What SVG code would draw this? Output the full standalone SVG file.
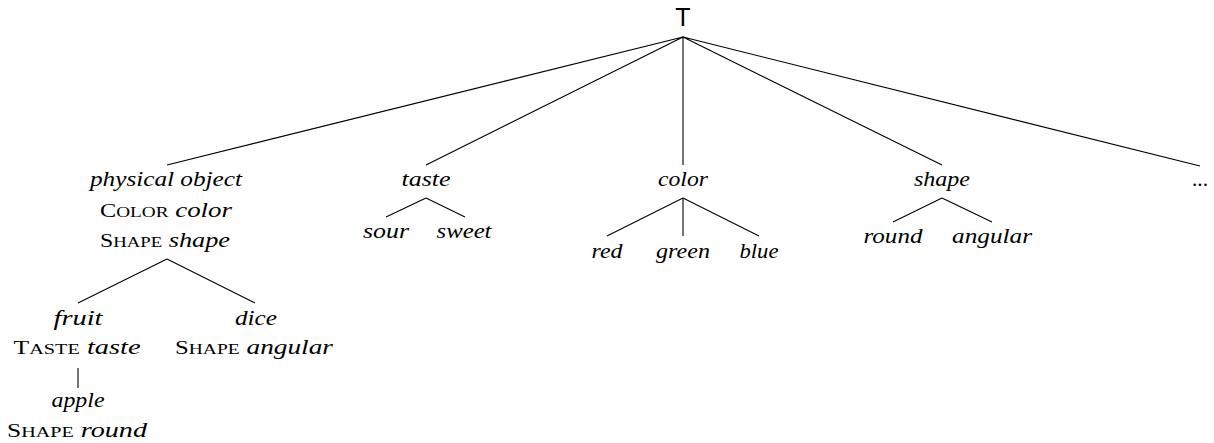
<svg xmlns="http://www.w3.org/2000/svg" width="1214" height="443" viewBox="0 0 1214 443">
<style>
text{font-family:"Liberation Serif","Times New Roman",serif;font-size:21px;fill:#000;text-anchor:middle}
.it{font-style:italic}
.sc{font-size:15px}
.cap{font-size:19px}
.sans{font-family:"Liberation Sans",Arial,sans-serif;font-size:25px}
.e{stroke:#000;stroke-width:1.1;fill:none}
</style>
<rect width="1214" height="443" fill="#fff"/>
<g id="connectors">
<path class="e" d="M683 37L167 165M683 37L426 165M683 37L683 165M683 37L942 165M683 37L1200 166"/>
<path class="e" d="M426 198L386 217M426 198L465 217"/>
<path class="e" d="M683 198L607 236M683 198L683 236M683 198L759 236"/>
<path class="e" d="M942 198L893 222M942 198L992 222"/>
<path class="e" d="M167 259L78 303M167 259L255 303"/>
<path class="e" d="M78 368L78 388"/>
</g>
<g id="n-T"><text class="sans" x="683" y="26">T</text></g>
<g id="n-physical">
<text class="it" x="166" y="186" textLength="152" lengthAdjust="spacingAndGlyphs">physical object</text>
<text x="166" y="217" textLength="132" lengthAdjust="spacingAndGlyphs"><tspan class="cap">C</tspan><tspan class="sc">OLOR</tspan> <tspan class="it">color</tspan></text>
<text x="165" y="247" textLength="130" lengthAdjust="spacingAndGlyphs"><tspan class="cap">S</tspan><tspan class="sc">HAPE</tspan> <tspan class="it">shape</tspan></text>
</g>
<g id="n-taste"><text class="it" x="426" y="186" textLength="49" lengthAdjust="spacingAndGlyphs">taste</text></g>
<g id="n-sour"><text class="it" x="386" y="238" textLength="46" lengthAdjust="spacingAndGlyphs">sour</text></g>
<g id="n-sweet"><text class="it" x="464" y="238" textLength="55" lengthAdjust="spacingAndGlyphs">sweet</text></g>
<g id="n-color"><text class="it" x="683" y="186" textLength="50" lengthAdjust="spacingAndGlyphs">color</text></g>
<g id="n-red"><text class="it" x="607" y="258" textLength="31" lengthAdjust="spacingAndGlyphs">red</text></g>
<g id="n-green"><text class="it" x="683" y="258" textLength="54" lengthAdjust="spacingAndGlyphs">green</text></g>
<g id="n-blue"><text class="it" x="759" y="258" textLength="39" lengthAdjust="spacingAndGlyphs">blue</text></g>
<g id="n-shape"><text class="it" x="942" y="186" textLength="56" lengthAdjust="spacingAndGlyphs">shape</text></g>
<g id="n-round"><text class="it" x="893" y="243" textLength="59" lengthAdjust="spacingAndGlyphs">round</text></g>
<g id="n-angular"><text class="it" x="992" y="243" textLength="80" lengthAdjust="spacingAndGlyphs">angular</text></g>
<g id="n-dots"><text x="1200" y="186" textLength="16" lengthAdjust="spacingAndGlyphs">...</text></g>
<g id="n-fruit">
<text class="it" x="78" y="325" textLength="49" lengthAdjust="spacingAndGlyphs">fruit</text>
<text x="77" y="354" textLength="127" lengthAdjust="spacingAndGlyphs"><tspan class="cap">T</tspan><tspan class="sc">ASTE</tspan> <tspan class="it">taste</tspan></text>
</g>
<g id="n-dice">
<text class="it" x="256" y="325" textLength="42" lengthAdjust="spacingAndGlyphs">dice</text>
<text x="254" y="354" textLength="158" lengthAdjust="spacingAndGlyphs"><tspan class="cap">S</tspan><tspan class="sc">HAPE</tspan> <tspan class="it">angular</tspan></text>
</g>
<g id="n-apple">
<text class="it" x="78" y="407" textLength="53" lengthAdjust="spacingAndGlyphs">apple</text>
<text x="77" y="437" textLength="140" lengthAdjust="spacingAndGlyphs"><tspan class="cap">S</tspan><tspan class="sc">HAPE</tspan> <tspan class="it">round</tspan></text>
</g>
</svg>
